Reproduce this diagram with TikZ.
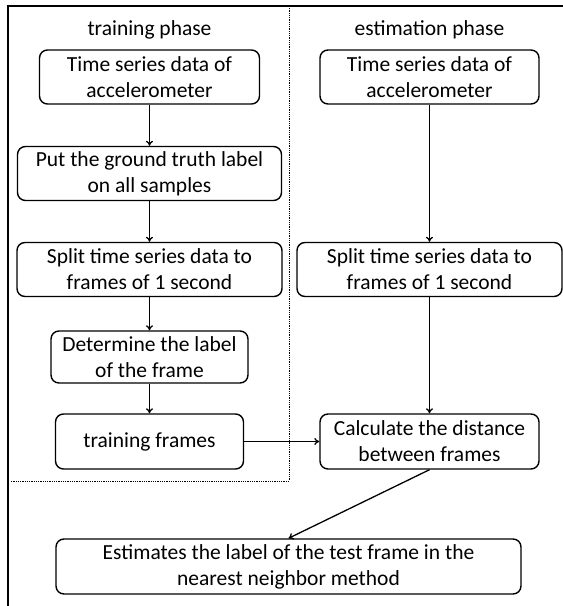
\documentclass[tikz,border=0pt]{standalone}
\usepackage{fontspec}
\setmainfont{Carlito}
\usetikzlibrary{arrows.meta}

\begin{document}
\begin{tikzpicture}[x=1pt, y=-1pt, >={To[length=5pt,width=7pt]},
  box/.style={draw, rounded corners=8pt, line width=1.4pt, align=center,
    inner sep=0pt, minimum height=54pt, font=\fontsize{21.5}{26}\selectfont},
  title/.style={font=\fontsize{21.5}{26}\selectfont},
  arr/.style={->, line width=1.3pt}]
\useasboundingbox (0,0) rectangle (563,606);
% outer frame and phase separator
\draw[line width=1.6pt] (8,606) -- (8,6) -- (563,6);
\draw[densely dotted, line width=0.8pt] (289,6) -- (289,481) -- (10,481);
% training phase (left)
\node[title] (ttitle) at (149.5,30) {training phase};
\node[box, minimum width=220pt] (t1) at (149.5,77) {Time series data of\\accelerometer};
\node[box, minimum width=264pt] (t2) at (149.5,173.5) {Put the ground truth label\\on all samples};
\node[box, minimum width=265pt] (t3) at (149.5,269.5) {Split time series data to\\frames of 1 second};
\node[box, minimum width=197pt, minimum height=52pt] (t4) at (149.5,357) {Determine the label\\of the frame};
\node[box, minimum width=188pt, minimum height=55pt] (t5) at (149.5,441.5) {training frames};
% estimation phase (right)
\node[title] (etitle) at (429.5,30) {estimation phase};
\node[box, minimum width=219pt] (e1) at (429.5,77) {Time series data of\\accelerometer};
\node[box, minimum width=265pt] (e2) at (429.5,269.5) {Split time series data to\\frames of 1 second};
\node[box, minimum width=219pt, minimum height=55pt] (e3) at (429.5,441.5) {Calculate the distance\\between frames};
% result
\node[box, minimum width=465pt, minimum height=55pt] (res) at (288.5,566.5) {Estimates the label of the test frame in the\\nearest neighbor method};
% arrows
\draw[arr] (t1) -- (t2);
\draw[arr] (t2) -- (t3);
\draw[arr] (t3) -- (t4);
\draw[arr] (t4) -- (t5);
\draw[arr] (e1) -- (e2);
\draw[arr] (e2) -- (e3);
\draw[arr] (t5) -- (e3);
\draw[arr] (e3.south) -- (res.north);
\end{tikzpicture}
\end{document}
